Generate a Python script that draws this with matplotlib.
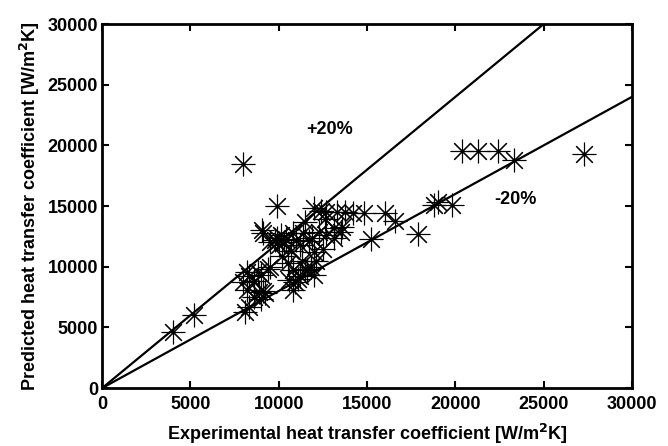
import numpy as np
import matplotlib.pyplot as plt

plt.rcParams['font.family'] = ['Liberation Sans', 'DejaVu Sans']
plt.rcParams['font.weight'] = 'bold'
plt.rcParams['mathtext.default'] = 'bf'

# experimental vs predicted heat transfer coefficients [W/m^2K]
h_exp = [4000, 5200,
         8100, 8300, 8600, 9200, 9000, 9100, 8200, 8900, 8300, 8800, 8200, 9000, 9400, 8000, 8600, 9500,
         10500, 10800, 11600, 10600, 10900, 10800, 11200, 11500, 12000, 11100, 11800, 11300, 12100, 10200, 10700,
         9100, 9900, 10100, 10800, 11400, 11900, 12700, 13100, 9500, 10300, 10000, 11000, 11700, 12300, 12500,
         13500, 10400, 9800, 11200, 12000,
         9050, 12000, 12700, 13300, 13750, 14200, 14800, 12400, 13100, 13600, 11500, 12600,
         9900, 8000,
         15200, 16000, 16600, 17900, 18800, 19000, 19800,
         20400, 21300, 22400, 23300, 27300]
h_pred = [4600, 6000,
          6300, 6700, 7500, 7800, 7300, 8000, 8100, 7900, 9200, 9600, 9600, 9300, 9800, 8700, 8800, 10000,
          10300, 9700, 9700, 8900, 8700, 8100, 9200, 9800, 9300, 9000, 10000, 10500, 10500, 10900, 11300,
          12800, 12400, 12600, 12800, 12800, 12400, 12600, 12400, 12000, 12000, 11800, 12200, 12100, 12900, 11500,
          12900, 12300, 12200, 11800, 11200,
          13000, 14800, 14500, 14500, 14500, 14400, 14400, 14600, 13200, 13300, 13700, 13900,
          15000, 18500,
          12300, 14400, 13800, 12700, 15100, 15300, 15100,
          19500, 19500, 19500, 18800, 19300]

fig = plt.figure(figsize=(6.68, 4.46), dpi=100)
ax = fig.add_axes([0.153, 0.130, 0.793, 0.816])

ax.plot(h_exp, h_pred, linestyle='none', marker=(8, 2, 0), markersize=17,
        markeredgewidth=0.8, color='black')

xl = np.array([0, 30000])
ax.plot(xl, 1.2 * xl, color='black', linewidth=1.6)
ax.plot(xl, 0.8 * xl, color='black', linewidth=1.6)

ax.text(12900, 21300, '+20%', fontsize=13, fontweight='bold', ha='center', va='center')
ax.text(23400, 15500, '-20%', fontsize=13, fontweight='bold', ha='center', va='center')

ax.set_xlim(0, 30000)
ax.set_ylim(0, 30000)
ax.set_xticks(np.arange(0, 30001, 5000))
ax.set_yticks(np.arange(0, 30001, 5000))
ax.tick_params(direction='in', top=True, right=True, labelsize=13, width=1.5, length=5)
ax.tick_params(axis='x', pad=6)
ax.tick_params(axis='y', pad=3)
for lbl in ax.get_xticklabels() + ax.get_yticklabels():
    lbl.set_fontweight('bold')
for s in ax.spines.values():
    s.set_linewidth(2)

ax.set_xlabel('Experimental heat transfer coefficient [W/m$^2$K]', fontsize=13, fontweight='bold', labelpad=6)
ax.set_ylabel('Predicted heat transfer coefficient [W/m$^2$K]', fontsize=13, fontweight='bold', labelpad=4)

fig.savefig('out.png', dpi=100)
